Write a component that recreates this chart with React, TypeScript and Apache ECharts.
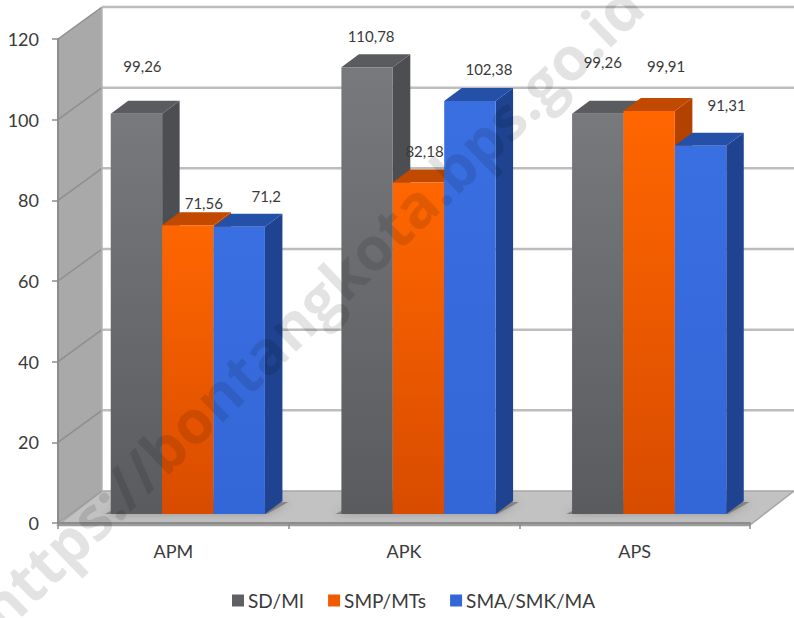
import React, { useEffect, useRef } from "react";
import * as echarts from "echarts";

const categories = ["APM", "APK", "APS"];
const seriesNames = ["SD/MI", "SMP/MTs", "SMA/SMK/MA"];
const sdValues = [99.26, 110.78, 99.26];
const smpValues = [71.56, 82.18, 99.91];
const smaValues = [71.2, 102.38, 91.31];
const yTicks = [0, 20, 40, 60, 80, 100, 120];
const watermark = "https://bontangkota.bps.go.id";

// label offsets from the centre of each bar's top edge (px)
const sdLabelOffsets = [[6, -48], [4, -31], [5, -52]];
const smpLabelOffsets = [[16, -22], [6, -32], [17, -45]];
const smaLabelOffsets = [[27, -31], [19, -32], [26, -41]];

const FONT = "Lato, 'Open Sans', sans-serif";
const WALL_DX = 44;
const WALL_DY = -32;
const PLANE_DX = 14.5;
const PLANE_DY = -9;
const BAR_DX = 17.5;
const BAR_DY = -13;
const BAR_FRAC = 0.2228;

const grad = (a: string, b: string) =>
  new echarts.graphic.LinearGradient(0, 0, 0, 1, [
    { offset: 0, color: a },
    { offset: 1, color: b },
  ]);

const poly = (points: number[][], fill: any, extra: any = {}) => ({
  type: "polygon",
  shape: { points },
  style: { fill, ...extra },
  silent: true,
});

const line = (x1: number, y1: number, x2: number, y2: number, stroke: string, lineWidth: number) => ({
  type: "line",
  shape: { x1, y1, x2, y2 },
  style: { stroke, lineWidth, fill: "none" },
  silent: true,
});

const renderWalls = (params: any, api: any) => {
  const r = params.coordSys;
  const left = r.x;
  const right = r.x + r.width;
  const bottom = r.y + r.height;
  const top = r.y;
  const children: any[] = [];
  children.push(
    poly(
      [
        [left, bottom],
        [left, top],
        [left + WALL_DX, top + WALL_DY],
        [left + WALL_DX, bottom + WALL_DY],
      ],
      "#a9a9a9"
    )
  );
  children.push(
    poly(
      [
        [left, bottom + 2],
        [right, bottom + 2],
        [right + WALL_DX, bottom + WALL_DY],
        [left + WALL_DX, bottom + WALL_DY],
      ],
      "#c2c2c2",
      { stroke: "#a6a6a6", lineWidth: 1.5 }
    )
  );
  children.push(line(left, bottom + 2, right, bottom + 2, "#9c9c9c", 2.5));
  yTicks.forEach((t) => {
    const y = api.coord([0, t])[1];
    if (t > 0) {
      children.push(line(left + WALL_DX, y + WALL_DY, right + WALL_DX, y + WALL_DY, "#bdbdbd", 2.5));
      children.push(line(left, y, left + WALL_DX, y + WALL_DY, "#8e8e8e", 1.5));
    }
  });
  children.push(line(left + WALL_DX, top + WALL_DY, left + WALL_DX, bottom + WALL_DY, "#b5b5b5", 1.5));
  children.push(line(left, bottom, left + WALL_DX, bottom + WALL_DY, "#9c9c9c", 1.5));
  categories.forEach((_, i) => {
    const c = api.coord([i, 0]);
    const band = api.size([1, 0])[0];
    const w = band * BAR_FRAC;
    const x0 = c[0] + PLANE_DX - 1.5 * w;
    const x1 = c[0] + PLANE_DX + 1.5 * w;
    const y0 = c[1] + PLANE_DY;
    children.push(
      poly(
        [
          [x0 - 6, y0],
          [x1 + 2, y0],
          [x1 + BAR_DX + 6, y0 + BAR_DY + 1],
          [x0 + BAR_DX, y0 + BAR_DY + 1],
        ],
        "rgba(90,90,90,0.55)",
        { shadowBlur: 8, shadowColor: "rgba(80,80,80,0.7)" }
      )
    );
  });
  return { type: "group", children };
};

const makeBarRenderer =
  (values: number[], index: number, front: [string, string], side: string, topFace: string) =>
  (params: any, api: any) => {
    const i = params.dataIndex;
    const band = api.size([1, 0])[0];
    const w = band * BAR_FRAC;
    const base = api.coord([i, 0]);
    const head = api.coord([i, values[i]]);
    const x0 = base[0] + PLANE_DX - 1.5 * w + index * w;
    const x1 = x0 + w;
    const yb = base[1] + PLANE_DY;
    const yt = head[1] + PLANE_DY;
    return {
      type: "group",
      children: [
        poly(
          [
            [x1, yt],
            [x1 + BAR_DX, yt + BAR_DY],
            [x1 + BAR_DX, yb + BAR_DY],
            [x1, yb],
          ],
          side
        ),
        poly(
          [
            [x0, yt],
            [x0 + BAR_DX, yt + BAR_DY],
            [x1 + BAR_DX, yt + BAR_DY],
            [x1, yt],
          ],
          topFace
        ),
        {
          type: "rect",
          shape: { x: x0, y: yt, width: w, height: yb - yt },
          style: { fill: grad(front[0], front[1]) },
          silent: true,
        },
      ],
    };
  };

const makeLabelRenderer =
  (values: number[], index: number, offsets: number[][]) => (params: any, api: any) => {
    const i = params.dataIndex;
    const w = api.size([1, 0])[0] * BAR_FRAC;
    const head = api.coord([i, values[i]]);
    const cx = head[0] + PLANE_DX - 1.5 * w + (index + 0.5) * w;
    const yt = head[1] + PLANE_DY;
    const off = offsets[i];
    return {
      type: "text",
      silent: true,
      style: {
        text: String(values[i]).replace(".", ","),
        x: cx + off[0],
        y: yt + off[1],
        align: "center",
        verticalAlign: "middle",
        font: `15px ${FONT}`,
        fill: "#3a3a3a",
      },
    };
  };

const seriesDefs: { name: string; values: number[]; offsets: number[][]; front: [string, string]; side: string; top: string; legend: string }[] = [
  { name: seriesNames[0], values: sdValues, offsets: sdLabelOffsets, front: ["#77797d", "#5a5b5f"], side: "#4d4e52", top: "#5a5b5f", legend: "#5f6064" },
  { name: seriesNames[1], values: smpValues, offsets: smpLabelOffsets, front: ["#ff6600", "#d84c00"], side: "#b34200", top: "#c24a00", legend: "#f05a00" },
  { name: seriesNames[2], values: smaValues, offsets: smaLabelOffsets, front: ["#3a6fe2", "#3366d6"], side: "#1f4390", top: "#2450a8", legend: "#3366d6" },
];

export default function App() {
  const ref = useRef<HTMLDivElement>(null);
  useEffect(() => {
    if (!ref.current) return;
    const chart = echarts.init(ref.current, undefined, { renderer: "svg" });
    chart.setOption({
      animation: false,
      backgroundColor: "#ffffff",
      grid: { left: 58, right: 44, top: 39, bottom: 95 },
      legend: {
        top: 591,
        left: 227,
        padding: [0, 5, 0, 5],
        itemWidth: 12,
        itemHeight: 12,
        itemGap: 24,
        icon: "rect",
        data: seriesNames,
        textStyle: { fontFamily: FONT, fontSize: 19, color: "#3a3a3a", padding: [0, 0, 0, -1] },
      },
      xAxis: {
        type: "category",
        data: categories,
        axisLine: { show: true, lineStyle: { color: "#8c8c8c", width: 2 } },
        axisTick: { show: true, length: 6, alignWithLabel: false, lineStyle: { color: "#8c8c8c", width: 1.5 } },
        axisLabel: { fontFamily: FONT, fontSize: 18, color: "#3a3a3a", margin: 19 },
        splitLine: { show: false },
      },
      yAxis: {
        type: "value",
        min: 0,
        max: 120,
        interval: 20,
        axisLine: { show: true, lineStyle: { color: "#8c8c8c", width: 2 } },
        axisTick: { show: true, length: 6, lineStyle: { color: "#8c8c8c", width: 1.5 } },
        axisLabel: { fontFamily: FONT, fontSize: 18, color: "#3a3a3a", margin: 19 },
        splitLine: { show: false },
      },
      series: [
        {
          type: "custom",
          name: "walls",
          silent: true,
          z: 0,
          data: [[0, 0]],
          encode: { x: 0, y: 1 },
          renderItem: renderWalls,
        },
        ...seriesDefs.map((d, k) => ({
          type: "custom",
          name: d.name,
          silent: true,
          z: 2 + k,
          itemStyle: { color: d.legend },
          data: d.values.map((v, i) => [i, v]),
          encode: { x: 0, y: 1 },
          renderItem: makeBarRenderer(d.values, k, d.front, d.side, d.top),
        })),
        ...seriesDefs.map((d, k) => ({
          type: "custom",
          name: d.name + " labels",
          silent: true,
          z: 6,
          data: d.values.map((v, i) => [i, v]),
          encode: { x: 0, y: 1 },
          renderItem: makeLabelRenderer(d.values, k, d.offsets),
        })),
      ],
      graphic: [
        {
          type: "text",
          silent: true,
          z: 100,
          x: 8,
          y: 640,
          rotation: (44 * Math.PI) / 180,
          style: {
            text: watermark,
            font: `bold 60px 'Open Sans', sans-serif`,
            fill: "rgba(0,0,0,0.11)",
            align: "left",
            verticalAlign: "bottom",
          },
        },
      ],
    });
    return () => chart.dispose();
  }, []);
  return (
    <div
      ref={ref}
      style={{ position: "absolute", left: 0, top: 0, width: 794, height: 618 }}
    />
  );
}
